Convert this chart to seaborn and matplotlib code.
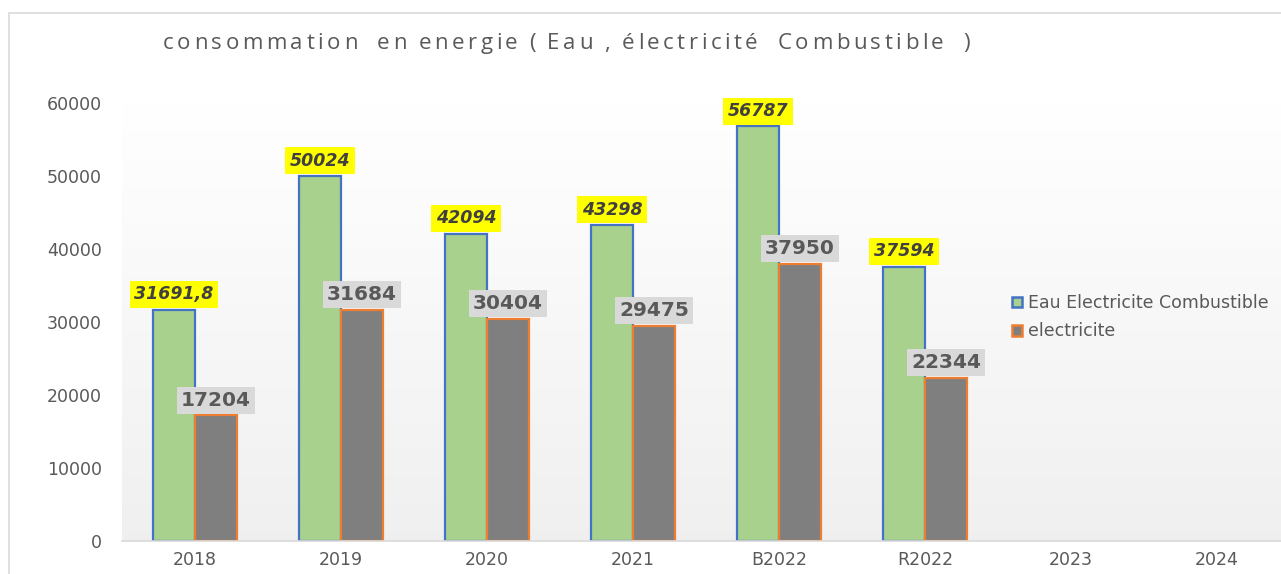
import numpy as np
import pandas as pd
import matplotlib
matplotlib.use("Agg")
import matplotlib.pyplot as plt
import seaborn as sns
from matplotlib.patches import Rectangle, Patch
from matplotlib.font_manager import FontProperties

categories = ["2018", "2019", "2020", "2021", "B2022", "R2022", "2023", "2024"]
eau_values = [31691.8, 50024, 42094, 43298, 56787, 37594, np.nan, np.nan]
elec_values = [17204, 31684, 30404, 29475, 37950, 22344, np.nan, np.nan]
series_names = ["Eau Electricite Combustible", "electricite"]
yticks = [0, 10000, 20000, 30000, 40000, 50000, 60000]
title = "consommation  en energie ( Eau , électricité  Combustible  )"

df = pd.DataFrame({
    "cat": categories * 2,
    "val": eau_values + elec_values,
    "serie": [series_names[0]] * len(categories) + [series_names[1]] * len(categories),
})

sns.set_theme(style="white")
plt.rcParams["font.family"] = ["DejaVu Sans"]

W, H = 1281, 574
fig = plt.figure(figsize=(W / 100, H / 100), dpi=100)
fig.patch.set_facecolor("white")

# chart frame
fig.patches.append(Rectangle((9 / W, -0.1), 1.2, 1 - 13 / H + 0.1, transform=fig.transFigure,
                             fill=False, edgecolor="#d9d9d9", linewidth=1.2, zorder=0))

ax = fig.add_axes([122 / W, 33 / H, 1168 / W, 438 / H])
ax.set_facecolor("none")

# gradient background of plot area
grad = np.linspace(1.0, 0.94, 256).reshape(-1, 1)
ax.imshow(np.dstack([grad, grad, grad]), extent=[0, 1, 0, 1], transform=ax.transAxes,
          aspect="auto", zorder=0, interpolation="bicubic")

green = "#a9d18e"
grey = "#7f7f7f"
sns.barplot(data=df, x="cat", y="val", hue="serie", order=categories,
            hue_order=series_names, palette=[green, grey], width=0.575,
            saturation=1, ax=ax, zorder=2, legend=True)

edge_colors = ["#4472c4", "#ed7d31"]
for cont, ec in zip(ax.containers, edge_colors):
    for p in cont.patches:
        p.set_edgecolor(ec)
        p.set_linewidth(1.6)

ax.set_xlim(-0.5, 7.5)
ax.set_ylim(0, 60000)
ax.set_yticks(yticks)
ax.set_yticklabels([str(v) for v in yticks])
ax.set_xlabel("")
ax.set_ylabel("")
for s in ["top", "right", "left"]:
    ax.spines[s].set_visible(False)
ax.spines["bottom"].set_color("#d9d9d9")
ax.spines["bottom"].set_linewidth(1.2)
ax.tick_params(axis="y", length=0, pad=14.5, labelsize=12.5, labelcolor="#595959")
ax.tick_params(axis="x", length=0, pad=7, labelsize=12.5, labelcolor="#595959")
ax.grid(False)


def fmt(v):
    if float(v).is_integer():
        return str(int(v))
    return ("%g" % v).replace(".", ",")


for i, cont in enumerate(ax.containers):
    for p in cont.patches:
        h = p.get_height()
        if not np.isfinite(h) or h == 0:
            continue
        xc = p.get_x() + p.get_width() / 2
        if i == 0:
            ax.annotate(fmt(h), (xc, h), xytext=(0, 11), textcoords="offset points",
                        ha="center", va="center", fontsize=12.5, fontweight="bold",
                        fontstyle="italic", color="#404040", zorder=5,
                        bbox=dict(boxstyle="square,pad=0.25", fc="#ffff00", ec="none"),
                        annotation_clip=False)
        else:
            ax.annotate(fmt(h), (xc, h), xytext=(0, 11), textcoords="offset points",
                        ha="center", va="center", fontsize=14.5, fontweight="bold",
                        color="#595959", zorder=5,
                        bbox=dict(boxstyle="square,pad=0.2", fc="#d9d9d9", ec="none"),
                        annotation_clip=False)

if ax.get_legend() is not None:
    ax.get_legend().remove()
lh = [Patch(facecolor=green, edgecolor=edge_colors[0], linewidth=1.8),
      Patch(facecolor=grey, edgecolor=edge_colors[1], linewidth=1.8)]
fig.legend(lh, series_names, loc="upper left", bbox_to_anchor=(1012 / W, 1 - 294 / H),
           bbox_transform=fig.transFigure, frameon=False, fontsize=12.5,
           handlelength=0.55, handleheight=0.55, handletextpad=0.4, labelspacing=0.6,
           labelcolor="#595959", borderpad=0, borderaxespad=0)

# title with expanded character spacing (as in the reference)
tfp = FontProperties(family=["Open Sans", "DejaVu Sans"], size=16)
renderer = fig.canvas.get_renderer()


def text_width(s):
    t = fig.text(0, 0, s, fontproperties=tfp)
    w = t.get_window_extent(renderer=renderer).width
    t.remove()
    return w


base = text_width("HH")
advances = [text_width("H" + ch + "H") - base for ch in title]
advances = [a * 0.8 if ch == " " else a for a, ch in zip(advances, title)]
x_start, x_end = 163, 970
track = (x_end - x_start - sum(advances)) / (len(title) - 1)
x = x_start
for ch, a in zip(title, advances):
    if ch != " ":
        fig.text(x / W, 1 - 49 / H, ch, fontproperties=tfp, color="#595959",
                 ha="left", va="baseline")
    x += a + track

fig.savefig("out.png", dpi=100)
